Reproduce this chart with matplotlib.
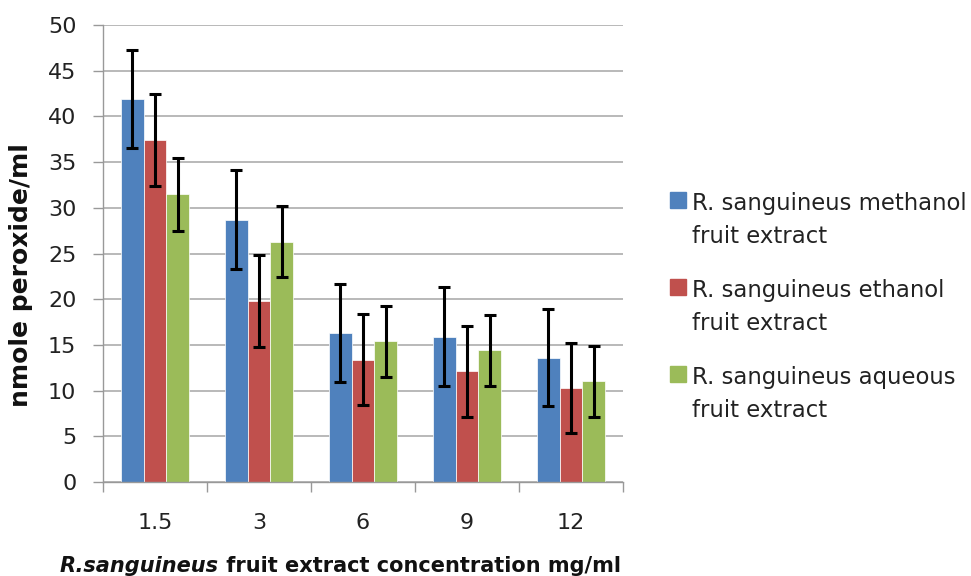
import numpy as np
import matplotlib.pyplot as plt
from matplotlib.patches import Rectangle

plt.rcParams['font.family'] = ['DejaVu Sans']

concentrations = ['1.5', '3', '6', '9', '12']
methanol = [41.9, 28.7, 16.3, 15.9, 13.6]
ethanol = [37.4, 19.8, 13.4, 12.1, 10.3]
aqueous = [31.5, 26.3, 15.4, 14.4, 11.0]
methanol_err = [5.4, 5.4, 5.4, 5.4, 5.3]
ethanol_err = [5.0, 5.0, 5.0, 5.0, 4.9]
aqueous_err = [4.0, 3.9, 3.9, 3.9, 3.9]

labels = [('R. sanguineus methanol', 'fruit extract'),
          ('R. sanguineus ethanol', 'fruit extract'),
          ('R. sanguineus aqueous', 'fruit extract')]
colors = ['#4F81BD', '#C0504D', '#9BBB59']

W, H = 971, 576
fig = plt.figure(figsize=(W / 100, H / 100), dpi=100)
ax = fig.add_axes([103 / W, 1 - 482 / H, 520 / W, 457 / H])

x = np.arange(len(concentrations))
w = 0.218
series = [(methanol, methanol_err), (ethanol, ethanol_err), (aqueous, aqueous_err)]
for i, (vals, errs) in enumerate(series):
    ax.bar(x + (i - 1) * w, vals, w, color=colors[i],
           edgecolor='white', linewidth=0.5, zorder=2)
    ax.errorbar(x + (i - 1) * w, vals, yerr=errs, fmt='none', ecolor='black',
                elinewidth=2.2, capsize=4.6, capthick=2.2, zorder=3)

ax.set_xlim(-0.5, len(concentrations) - 0.5)
ax.set_ylim(0, 50)
ax.set_yticks(np.arange(0, 51, 5))
ax.set_xticks(x)
ax.set_xticklabels(concentrations)
ax.set_xticks(np.arange(-0.5, len(concentrations), 1), minor=True)
ax.tick_params(axis='x', which='major', length=0, pad=22, labelsize=16,
               labelcolor='#222222')
ax.tick_params(axis='x', which='minor', length=7.2, color='#999999', width=1)
ax.tick_params(axis='y', length=7.2, color='#999999', width=1, labelsize=16,
               pad=12, labelcolor='#222222')
ax.yaxis.grid(True, color='#a6a6a6', linewidth=1.1, zorder=0)
ax.set_axisbelow(True)
for s in ['top', 'right']:
    ax.spines[s].set_visible(False)
for s in ['left', 'bottom']:
    ax.spines[s].set_color('#999999')
    ax.spines[s].set_linewidth(1)

# y label
fig.text(21 / W, 1 - 275 / H, 'nmole peroxide/ml', rotation=90, fontsize=18,
         fontweight='bold', ha='center', va='center', color='#111111')

# x label, italic species name followed by plain text
t1 = fig.text(60 / W, 1 - 572 / H, 'R.sanguineus', fontsize=15, fontweight='bold',
              fontstyle='italic', va='baseline', color='#111111')
ax.annotate(' fruit extract concentration mg/ml', xy=(1, 0), xycoords=t1,
            fontsize=15, fontweight='bold', va='bottom', color='#111111')

# legend
for k, (l1, l2) in enumerate(labels):
    top = 192 + 87 * k
    fig.add_artist(Rectangle((670 / W, 1 - (top + 16) / H), 16 / W, 16 / H,
                             transform=fig.transFigure, color=colors[k]))
    fig.text(692 / W, 1 - (top + 18) / H, l1, fontsize=16.4, va='baseline',
             color='#222222')
    fig.text(692 / W, 1 - (top + 51) / H, l2, fontsize=16.4, va='baseline',
             color='#222222')

fig.savefig('out.png', dpi=100)
